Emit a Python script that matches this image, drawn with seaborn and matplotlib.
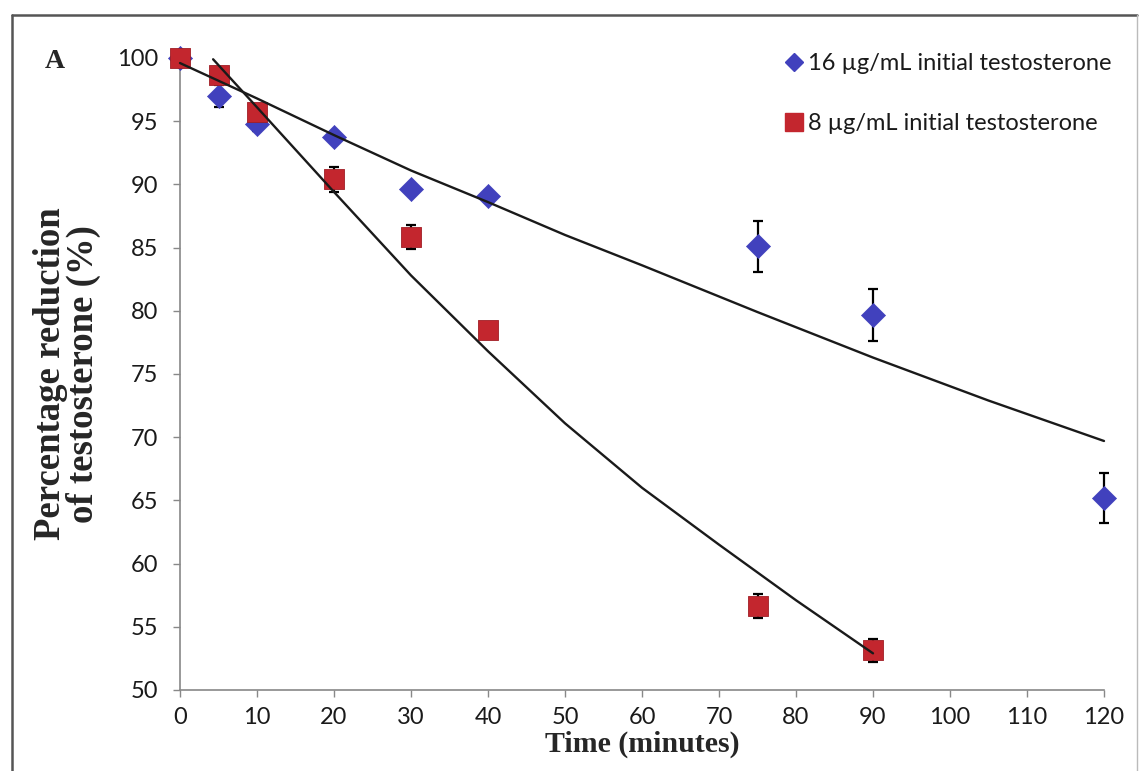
import numpy as np
import pandas as pd
import matplotlib
matplotlib.use("Agg")
import matplotlib.pyplot as plt
import seaborn as sns
from matplotlib.lines import Line2D

time_16 = [0, 5, 10, 20, 30, 40, 75, 90, 120]
red_16 = [100.0, 97.0, 94.8, 93.75, 89.6, 89.1, 85.1, 79.7, 65.2]
err_16 = [0.0, 0.9, 0.6, 0.2, 0.2, 0.4, 2.0, 2.05, 2.0]

time_8 = [0, 5, 10, 20, 30, 40, 75, 90]
red_8 = [100.0, 98.65, 95.75, 90.4, 85.85, 78.5, 56.65, 53.15]
err_8 = [0.0, 0.3, 0.4, 1.0, 0.95, 0.2, 0.95, 0.9]

# Trendlinien
fit_t_16 = [0, 10, 20, 30, 40, 50, 60, 75, 90, 105, 120]
fit_v_16 = [99.6, 96.8, 93.9, 91.1, 88.6, 86.0, 83.6, 79.9, 76.3, 72.9, 69.7]
fit_t_8 = [4.3, 10, 20, 30, 40, 50, 60, 70, 80, 90]
fit_v_8 = [99.9, 96.1, 89.4, 82.8, 76.8, 71.1, 66.0, 61.5, 57.1, 52.9]

x_ticks = list(range(0, 121, 10))
y_ticks = list(range(50, 101, 5))

label_16 = "16 \u00b5g/mL initial testosterone"
label_8 = "8 \u00b5g/mL initial testosterone"

blue = "#4141bd"
red = "#c3262e"

sns.set_style("white")
plt.rcParams['font.family'] = ['Lato', 'DejaVu Sans']

df16 = pd.DataFrame({"t": time_16, "v": red_16, "e": err_16})
df8 = pd.DataFrame({"t": time_8, "v": red_8, "e": err_8})
fit16 = pd.DataFrame({"t": fit_t_16, "v": fit_v_16})
fit8 = pd.DataFrame({"t": fit_t_8, "v": fit_v_8})

fig = plt.figure(figsize=(11.4, 7.71), dpi=100)
ax = fig.add_axes([180 / 1140, 1 - 690 / 771, (1104 - 180) / 1140, (690 - 58) / 771])

# Punkte
sns.scatterplot(data=df16, x="t", y="v", marker="D", s=150, color=blue,
                edgecolor=blue, linewidth=0.5, ax=ax, zorder=3, clip_on=False)
ax.errorbar(df16["t"], df16["v"], yerr=df16["e"], fmt="none", ecolor="black",
            elinewidth=1.6, capsize=3.8, capthick=1.6, zorder=2, clip_on=False)
ax.errorbar(df8["t"], df8["v"], yerr=df8["e"], fmt="none", ecolor="black",
            elinewidth=1.6, capsize=3.8, capthick=1.6, zorder=3.5, clip_on=False)
sns.scatterplot(data=df8, x="t", y="v", marker="s", s=215, color=red,
                edgecolor="#a01e25", linewidth=0.6, ax=ax, zorder=4, clip_on=False)

# Trendlinien
sns.lineplot(data=fit16, x="t", y="v", color="#1a1a1a", linewidth=1.7, ax=ax,
             zorder=5, clip_on=False)
sns.lineplot(data=fit8, x="t", y="v", color="#1a1a1a", linewidth=1.7, ax=ax,
             zorder=5, clip_on=False)

ax.set_xlim(0, 120)
ax.set_ylim(50, 100)
ax.set_xticks(x_ticks)
ax.set_yticks(y_ticks)
ax.tick_params(axis="both", direction="out", length=5, width=1, color="#888888",
               labelsize=17, labelcolor="#1a1a1a", left=True, bottom=True)
ax.tick_params(axis="x", pad=7)
ax.tick_params(axis="y", pad=11)
for s in ["top", "right"]:
    ax.spines[s].set_visible(False)
for s in ["left", "bottom"]:
    ax.spines[s].set_color("#888888")
    ax.spines[s].set_linewidth(1.2)

ax.set_xlabel("Time (minutes)", family="Liberation Serif", fontweight="bold",
              fontsize=21.5, labelpad=2)
ax.set_ylabel("Percentage reduction\nof testosterone (%)", family="Liberation Serif",
              fontweight="bold", fontsize=26.5, labelpad=11, linespacing=0.92)

# Legende
handles = [
    Line2D([], [], marker="D", linestyle="none", color=blue, markersize=9),
    Line2D([], [], marker="s", linestyle="none", color=red, markersize=13),
]
leg = ax.legend(handles, [label_16, label_8], loc="upper left",
                bbox_to_anchor=(777 / 1140, 1 - 44 / 771), bbox_transform=fig.transFigure,
                frameon=False, fontsize=17, handlelength=0.6, handletextpad=0.3,
                labelspacing=1.65, borderaxespad=0)
for t in leg.get_texts():
    t.set_color("#1a1a1a")

fig.text(45 / 1140, 1 - 62 / 771, "A", family="Liberation Serif", fontweight="bold",
         fontsize=20, ha="left", va="center")

# Rahmen
fig.add_artist(Line2D([12 / 1140, 12 / 1140], [0, 1 - 15 / 771], transform=fig.transFigure,
                      color="#555555", linewidth=1.8))
fig.add_artist(Line2D([12 / 1140, 1137 / 1140], [1 - 15 / 771, 1 - 15 / 771],
                      transform=fig.transFigure, color="#555555", linewidth=1.8))
fig.add_artist(Line2D([1137 / 1140, 1137 / 1140], [0, 1 - 15 / 771], transform=fig.transFigure,
                      color="#bbbbbb", linewidth=1.0))

fig.savefig("out.png", dpi=100)
